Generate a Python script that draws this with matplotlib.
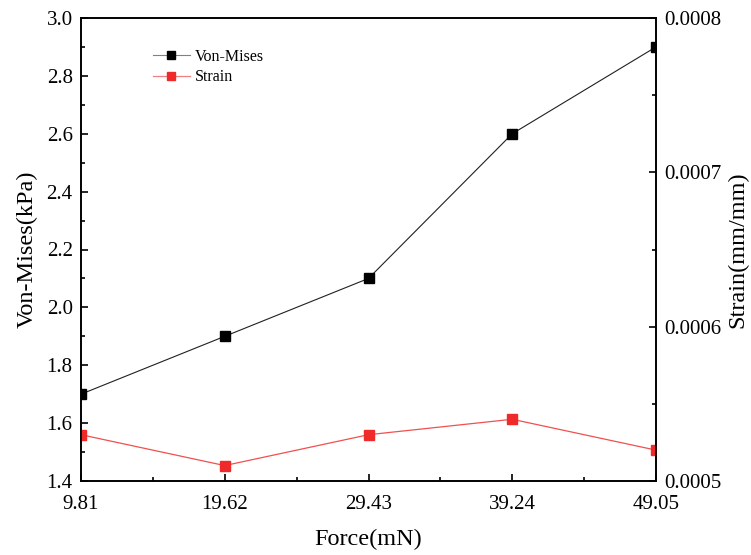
import matplotlib
matplotlib.use("Agg")
import matplotlib.pyplot as plt
from matplotlib.ticker import MultipleLocator, AutoMinorLocator, FormatStrFormatter

force_labels = ["9.81", "19.62", "29.43", "39.24", "49.05"]
von_mises = [1.7, 1.9, 2.1, 2.6, 2.9]
strain = [0.00053, 0.00051, 0.00053, 0.00054, 0.00052]

plt.rcParams["font.family"] = ["Liberation Serif", "DejaVu Serif"]

fig = plt.figure(figsize=(7.51, 5.55), dpi=100)
# axes box in pixels: left 81, right 656, top 18, bottom 481
ax = fig.add_axes([81 / 751, 1 - 481 / 555, (656 - 81) / 751, (481 - 18) / 555])
ax2 = ax.twinx()

x = list(range(len(force_labels)))
l1, = ax.plot(x, von_mises, color="#202020", lw=0.8, marker="s", ms=7.5,
              markerfacecolor="black", markeredgecolor="black", label="Von-Mises")
l2, = ax2.plot(x, strain, color="#f05050", lw=0.9, marker="s", ms=7.5,
               markerfacecolor="#ee2a2a", markeredgecolor="#ee2a2a", label="Strain")

ax.set_xlim(0, 4)
ax.set_xticks(x)
ax.set_xticklabels(force_labels)
ax.xaxis.set_minor_locator(MultipleLocator(0.5))
ax.set_ylim(1.4, 3.0)
ax.yaxis.set_major_locator(MultipleLocator(0.2))
ax.yaxis.set_minor_locator(AutoMinorLocator(2))
ax.yaxis.set_major_formatter(FormatStrFormatter("%.1f"))
ax2.set_ylim(0.0005, 0.0008)
ax2.yaxis.set_major_locator(MultipleLocator(0.0001))
ax2.yaxis.set_minor_locator(AutoMinorLocator(2))
ax2.yaxis.set_major_formatter(FormatStrFormatter("%.4f"))

for a in (ax, ax2):
    a.tick_params(which="both", direction="in", labelsize=15, width=1.2)
    a.tick_params(which="major", length=5)
    a.tick_params(which="minor", length=3)
    for s in a.spines.values():
        s.set_linewidth(1.2)
ax.tick_params(axis="x", pad=10)
ax.tick_params(axis="y", pad=6)
ax2.tick_params(axis="y", pad=6)

ax.set_xlabel("Force(mN)", fontsize=17.5, labelpad=11)
ax.set_ylabel("Von-Mises(kPa)", fontsize=17.5, labelpad=6)
ax2.set_ylabel("Strain(mm/mm)", fontsize=17.5, labelpad=4)

leg = ax.legend(handles=[l1, l2], loc="upper left", bbox_to_anchor=(0.10, 0.965),
                frameon=False, fontsize=11.5, handlelength=2.3, handletextpad=0.3,
                labelspacing=0.3, markerscale=0.8)
leg.get_lines()[0].set_color("gray")
leg.get_lines()[0].set_markerfacecolor("black")
leg.get_lines()[0].set_markeredgecolor("black")
leg.get_lines()[1].set_color("#f08080")

fig.savefig("out.png", dpi=100)
